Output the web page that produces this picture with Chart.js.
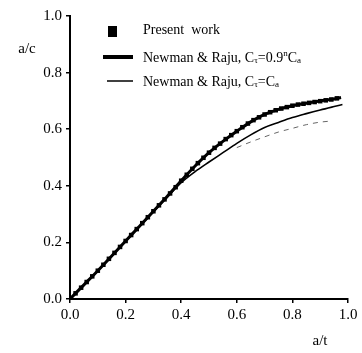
<!DOCTYPE html>
<html>
<head>
<meta charset="utf-8">
<script src="https://cdn.jsdelivr.net/npm/chart.js@4"></script>
<style>
html,body{margin:0;padding:0;background:#fff;}
canvas{display:block;}
</style>
</head>
<body>
<canvas id="c" width="362" height="353"></canvas>
<script>
// ---- data ----
const tickValues = [0, 0.2, 0.4, 0.6, 0.8, 1.0];
const xTitle = 'a/t';
const yTitle = 'a/c';
// legend labels as text runs: [text, 'n' normal | 'b' subscript | 'p' superscript]
const legendLabels = [
  [['Present  work', 'n']],
  [['Newman & Raju, C', 'n'], ['\u03C4', 'b'], ['=0.9', 'n'], ['n', 'p'], ['C', 'n'], ['a', 'b']],
  [['Newman & Raju, C', 'n'], ['\u03C4', 'b'], ['=C', 'n'], ['a', 'b']]
];

// Present work (square markers)
const presentX = [0,0.02,0.04,0.06,0.08,0.10,0.12,0.14,0.16,0.18,0.20,0.22,0.24,0.26,0.28,0.30,0.32,0.34,0.36,0.38,0.40,0.42,0.44,0.46,0.48,0.50,0.52,0.54,0.56,0.58,0.60,0.62,0.64,0.66,0.68,0.70,0.72,0.74,0.76,0.78,0.80,0.82,0.84,0.86,0.88,0.90,0.92,0.94,0.96];
const presentY = [0,0.02,0.04,0.06,0.08,0.10,0.121,0.142,0.163,0.184,0.205,0.226,0.247,0.268,0.289,0.31,0.331,0.352,0.373,0.395,0.418,0.439,0.46,0.48,0.499,0.517,0.534,0.549,0.565,0.579,0.593,0.607,0.62,0.632,0.642,0.652,0.66,0.667,0.673,0.678,0.683,0.687,0.69,0.693,0.696,0.699,0.702,0.705,0.709];

// Newman & Raju, Ct = 0.9^n Ca (thick line)
const nr09X = [0,0.05,0.1,0.15,0.2,0.25,0.3,0.35,0.4,0.45,0.5,0.55,0.6,0.65,0.7,0.75,0.8,0.85,0.9,0.95,0.975];
const nr09Y = [0,0.05,0.10,0.152,0.205,0.257,0.31,0.363,0.418,0.47,0.517,0.557,0.593,0.626,0.652,0.67,0.683,0.692,0.70,0.707,0.712];

// Newman & Raju, Ct = Ca (thin line)
const nrCaX = [0,0.1,0.2,0.3,0.35,0.4,0.45,0.5,0.55,0.6,0.65,0.7,0.75,0.8,0.85,0.9,0.95,0.98];
const nrCaY = [0,0.10,0.204,0.308,0.36,0.411,0.45,0.484,0.517,0.55,0.58,0.606,0.624,0.641,0.655,0.668,0.68,0.687];

// faint dashed curve (unlabelled)
const dashX = [0.6,0.65,0.7,0.75,0.8,0.85,0.9,0.93];
const dashY = [0.535,0.555,0.573,0.59,0.603,0.616,0.625,0.628];

const pts = (xs, ys) => xs.map((x, i) => ({x: x, y: ys[i]}));

const FONT = '"Liberation Serif", "DejaVu Serif", serif';

function drawRich(ctx, runs, x, y, size) {
  let cx = x;
  runs.forEach(([t, k]) => {
    const s = k === 'n' ? size : Math.round(size * 0.65);
    const dy = k === 'b' ? 3 : (k === 'p' ? -4 : 0);
    ctx.font = s + 'px ' + FONT;
    ctx.fillText(t, cx, y + dy);
    cx += ctx.measureText(t).width;
  });
}

const overlay = {
  id: 'overlay',
  afterDraw(chart) {
    const ctx = chart.ctx;
    ctx.save();
    ctx.fillStyle = '#000';
    ctx.strokeStyle = '#000';
    ctx.textBaseline = 'middle';
    // axis titles
    ctx.font = '15px ' + FONT;
    ctx.textAlign = 'center';
    ctx.fillText(yTitle, 27, 49);
    ctx.fillText(xTitle, 320, 341);
    // legend
    ctx.textAlign = 'left';
    ctx.fillRect(108, 26, 9, 11);
    drawRich(ctx, legendLabels[0], 143, 30, 14);
    ctx.lineWidth = 4;
    ctx.beginPath(); ctx.moveTo(103, 57); ctx.lineTo(133, 57); ctx.stroke();
    drawRich(ctx, legendLabels[1], 143, 58, 14);
    ctx.lineWidth = 1.5;
    ctx.beginPath(); ctx.moveTo(107, 81); ctx.lineTo(133, 81); ctx.stroke();
    drawRich(ctx, legendLabels[2], 143, 82, 14);
    ctx.restore();
  }
};

new Chart(document.getElementById('c'), {
  type: 'scatter',
  data: {
    datasets: [
      { label: 'Present work', data: pts(presentX, presentY), pointStyle: 'rect', pointRadius: 3.2,
        backgroundColor: '#000', borderColor: '#000', borderWidth: 0, showLine: false },
      { label: 'Newman & Raju 0.9', data: pts(nr09X, nr09Y), showLine: true, pointRadius: 0,
        borderColor: '#000', borderWidth: 3, cubicInterpolationMode: 'monotone' },
      { label: 'Newman & Raju', data: pts(nrCaX, nrCaY), showLine: true, pointRadius: 0,
        borderColor: '#000', borderWidth: 1.6, cubicInterpolationMode: 'monotone' },
      { label: '', data: pts(dashX, dashY), showLine: true, pointRadius: 0,
        borderColor: '#666', borderWidth: 1, borderDash: [5, 5], cubicInterpolationMode: 'monotone' }
    ]
  },
  options: {
    responsive: false,
    animation: false,
    devicePixelRatio: 1,
    layout: { padding: { left: 0, top: 16, right: 14, bottom: 0 } },
    plugins: { legend: { display: false }, tooltip: { enabled: false } },
    scales: {
      x: {
        type: 'linear', min: 0, max: 1,
        afterBuildTicks: s => { s.ticks = tickValues.map(v => ({value: v})); },
        afterFit: s => { s.height = 54; },
        ticks: { callback: v => v.toFixed(1), color: '#000', font: { family: FONT, size: 15 }, padding: 3, maxRotation: 0 },
        grid: { display: true, drawOnChartArea: false, drawTicks: true, tickLength: 4, color: '#000', lineWidth: 1.5 },
        border: { display: true, color: '#000', width: 2 }
      },
      y: {
        type: 'linear', min: 0, max: 1,
        afterBuildTicks: s => { s.ticks = tickValues.map(v => ({value: v})); },
        afterFit: s => { s.width = 70; },
        ticks: { callback: v => v.toFixed(1), color: '#000', font: { family: FONT, size: 15 }, padding: 4 },
        grid: { display: true, drawOnChartArea: false, drawTicks: true, tickLength: 4, color: '#000', lineWidth: 1.5 },
        border: { display: true, color: '#000', width: 2 }
      }
    }
  },
  plugins: [overlay]
});
</script>
</body>
</html>
